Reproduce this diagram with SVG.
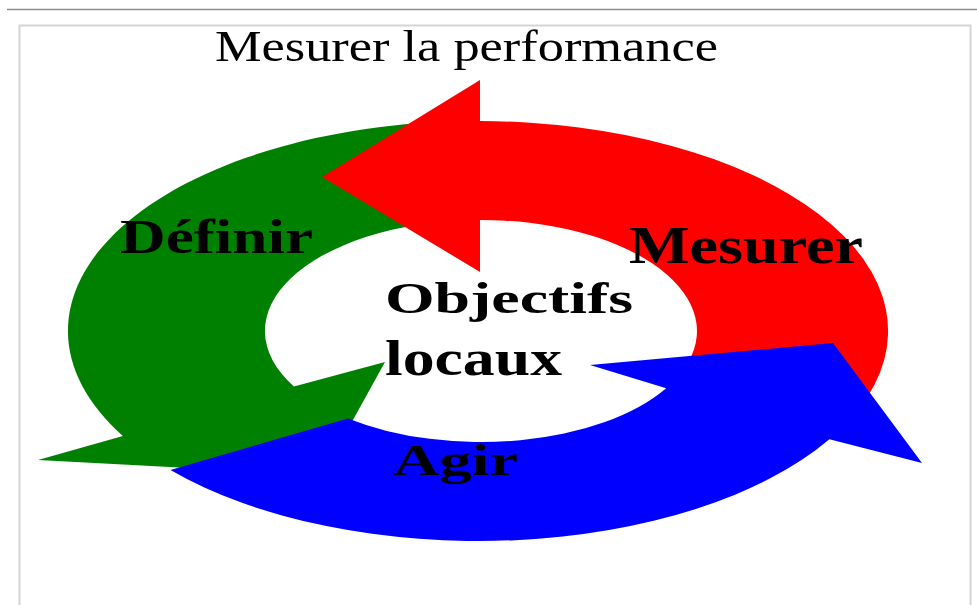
<svg xmlns="http://www.w3.org/2000/svg" width="977" height="605" viewBox="0 0 977 605">
  <style>
    .lbl { font-family: "Liberation Serif", "Times New Roman", serif; fill: #000; }
    .b { font-weight: bold; }
  </style>
  <rect x="0" y="0" width="977" height="605" fill="#ffffff"/>
  <line x1="7" y1="9.5" x2="977" y2="9.5" stroke="#8c8c8c" stroke-width="1.5"/>
  <rect x="19.5" y="25.5" width="951" height="620" fill="none" stroke="#d4d4d4" stroke-width="2"/>

  <g id="connectors">
    <path id="arrow-definir" fill="#008000" d="M 470.8,121 A 410 210 0 0 0 122.9,436 L 38,460 L 170,467 L 322,476 L 385,362 L 293.9,386.5 A 216 111 0 0 1 469.7,220.15 Z"/>
    <path id="arrow-mesurer" fill="#ff0000" d="M 858.2,409.7 A 410 210 0 0 0 480,121 L 480,80 L 322,177 L 480,272 L 480,220 A 216 111 0 0 1 688.6,361.6 Z"/>
    <path id="arrow-agir" fill="#0000ff" d="M 170.5,469.9 A 410 210 0 0 0 829.4,439.2 L 922,463 L 833,343 L 590,365 L 666.2,388.2 A 216 111 0 0 1 348,418.5 Z"/>
  </g>

  <g id="title">
    <text class="lbl" x="215" y="61" font-size="44" textLength="503" lengthAdjust="spacingAndGlyphs">Mesurer la performance</text>
  </g>
  <g id="node-definir">
    <text class="lbl b" x="120" y="253" font-size="48" textLength="193" lengthAdjust="spacingAndGlyphs">Définir</text>
  </g>
  <g id="node-mesurer">
    <text class="lbl b" x="629" y="263" font-size="52" textLength="234" lengthAdjust="spacingAndGlyphs">Mesurer</text>
  </g>
  <g id="node-agir">
    <text class="lbl b" x="393" y="475" font-size="45" textLength="125" lengthAdjust="spacingAndGlyphs">Agir</text>
  </g>
  <g id="node-objectifs">
    <text class="lbl b" x="385" y="313" font-size="45" textLength="248" lengthAdjust="spacingAndGlyphs">Objectifs</text>
    <text class="lbl b" x="385" y="375" font-size="50" textLength="177" lengthAdjust="spacingAndGlyphs">locaux</text>
  </g>
</svg>
